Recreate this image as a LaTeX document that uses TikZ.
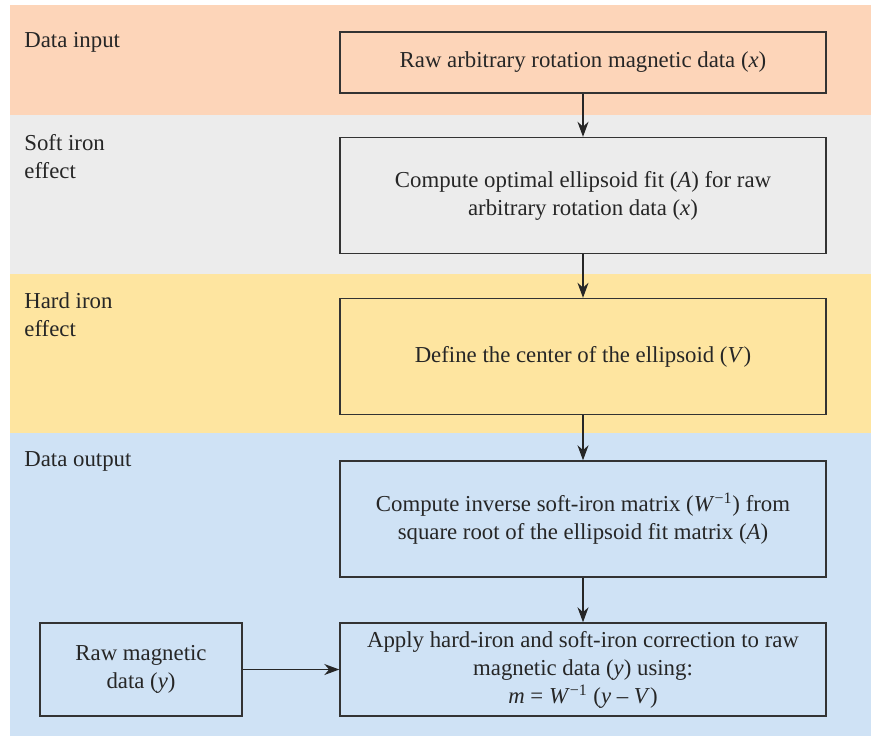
\documentclass[tikz,border=0pt]{standalone}
\usepackage{fontspec}
\setmainfont{Liberation Serif}
\usetikzlibrary{arrows.meta}

\definecolor{bandinput}{HTML}{FDD5B9}
\definecolor{bandsoft}{HTML}{ECECEC}
\definecolor{bandhard}{HTML}{FEE5A0}
\definecolor{bandoutput}{HTML}{CFE2F5}

\newcommand{\itvar}[1]{\textit{#1}}

\begin{document}
\begin{tikzpicture}[x=0.5pt, y=-0.5pt,
		every node/.style={font=\fontsize{11.4}{14}\selectfont, text=black!85},
		stepbox/.style={draw=black!80, line width=0.7pt, align=center, minimum width=243pt, inner sep=0pt},
		bandlabel/.style={anchor=north west, align=left, inner sep=0pt},
		flow/.style={draw=black!85, line width=0.6pt, -{Stealth[length=7.5pt, width=5.5pt, inset=2.4pt]}}]
			\useasboundingbox (0,0) rectangle (871,739);

			% Bands
			\fill[bandinput] (10,5) rectangle (871,115);
			\fill[bandsoft] (10,115) rectangle (871,274);
			\fill[bandhard] (10,274) rectangle (871,433);
			\fill[bandoutput] (10,433) rectangle (871,736);

			% Band labels
			\node[bandlabel] (lblinput) at (24,32) {Data input};
			\node[bandlabel] (lblsoft) at (24,134) {Soft iron\\effect};
			\node[bandlabel] (lblhard) at (24,292) {Hard iron\\effect};
			\node[bandlabel] (lbloutput) at (24,451) {Data output};

			% Steps
			\node[stepbox, minimum height=30.5pt] (rawx) at (583,62.5) {Raw arbitrary rotation magnetic data (\itvar{x})};
			\node[stepbox, minimum height=58pt] (fit) at (583,195.5) {Compute optimal ellipsoid fit (\itvar{A}) for raw\\arbitrary rotation data (\itvar{x})};
			\node[stepbox, minimum height=58pt] (center) at (583,356.5) {Define the center of the ellipsoid (\itvar{V})};
			\node[stepbox, minimum height=58pt] (inverse) at (583,519) {Compute inverse soft-iron matrix (\itvar{W}\textsuperscript{−1}) from\\square root of the ellipsoid fit matrix (\itvar{A})};
			\node[stepbox, minimum height=46.5pt] (apply) at (583,669.5) {Apply hard-iron and soft-iron correction to raw\\magnetic data (\itvar{y}) using:\\\itvar{m} = \itvar{W}\textsuperscript{−1} (\itvar{y} – \itvar{V})};
			\node[stepbox, minimum width=101pt, minimum height=46.5pt] (rawy) at (141,669.5) {Raw magnetic\\data (\itvar{y})};

			% Arrows
			\draw[flow] (rawx) -- (fit);
			\draw[flow] (fit) -- (center);
			\draw[flow] (center) -- (inverse);
			\draw[flow] (inverse) -- (apply);
			\draw[flow] (rawy) -- (apply);
		\end{tikzpicture}
\end{document}
